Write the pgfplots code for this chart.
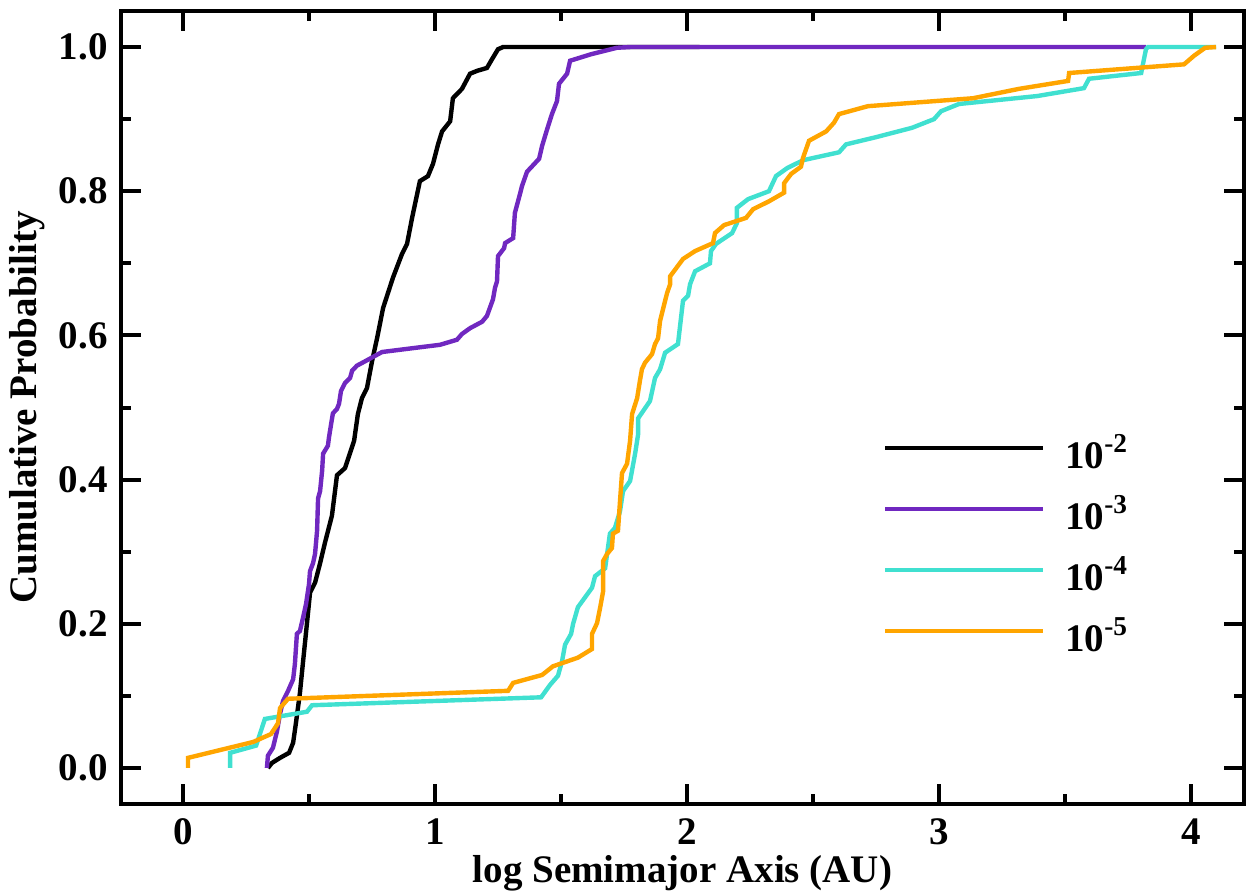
\documentclass[border=0pt]{standalone}
\usepackage{fontspec}
\setmainfont{Liberation Serif}
\usepackage{pgfplots}
\pgfplotsset{compat=1.18}
\definecolor{idlpurple}{RGB}{112,40,192}
\definecolor{idlturq}{RGB}{64,224,208}
\definecolor{idlorange}{RGB}{255,165,0}
\newcommand{\bigfont}{\fontsize{19.5}{23}\selectfont\bfseries}
\begin{document}
\begin{tikzpicture}
\useasboundingbox (-60.5pt,-43pt) rectangle (564pt,402pt);
\begin{axis}[
  scale only axis, width=561.5pt, height=396.5pt,
  xmin=-0.246, xmax=4.21, ymin=-0.05, ymax=1.05,
  axis line style={line width=2.2pt},
  tick pos=both, tick align=inside,
  major tick length=10pt, minor tick length=5pt,
  tick style={black, line width=2pt},
  xtick={0,1,2,3,4}, xticklabels={0,1,2,3,4},
  minor xtick={0.5,1.5,2.5,3.5},
  ytick={0,0.2,0.4,0.6,0.8,1}, yticklabels={0.0,0.2,0.4,0.6,0.8,1.0},
  minor ytick={0.1,0.3,0.5,0.7,0.9},
  xticklabel style={font=\bigfont, inner sep=0pt, anchor=north, yshift=-7pt},
  yticklabel style={font=\bigfont, inner sep=0pt, anchor=east, xshift=-6.5pt},
  xlabel={log Semimajor Axis (AU)},
  ylabel={Cumulative Probability},
  every axis x label/.style={at={([yshift=-39pt]axis description cs:0.5,0)}, anchor=base, font=\bigfont},
  every axis y label/.style={at={([xshift=-42pt]axis description cs:0,0.5)}, rotate=90, anchor=base, font=\bigfont},
  legend style={draw=none, fill=none, inner sep=0pt, outer sep=0pt,
    at={([xshift=381pt,yshift=184pt]axis description cs:0,0)}, anchor=north west,
    row sep=14.5pt, column sep=10pt, font=\bigfont,
    nodes={inner sep=0pt, text height=16pt, text depth=0pt}},
  legend cell align=left,
  legend image code/.code={\draw[#1] (0pt,2pt) -- (79pt,2pt);},
]
\addplot[black, line width=2.2pt] coordinates {
(0.337,0) (0.353,0.007) (0.385,0.014) (0.421,0.021) (0.437,0.035) (0.448,0.062)
(0.464,0.104) (0.476,0.146) (0.492,0.201) (0.504,0.243) (0.524,0.257) (0.544,0.284)
(0.563,0.312) (0.591,0.350) (0.611,0.406) (0.643,0.416) (0.663,0.437) (0.679,0.454)
(0.694,0.491) (0.710,0.513) (0.730,0.527) (0.750,0.564) (0.770,0.596) (0.794,0.638)
(0.833,0.680) (0.869,0.713) (0.889,0.727) (0.909,0.763) (0.940,0.814) (0.972,0.821)
(0.992,0.838) (1.012,0.865) (1.028,0.883) (1.060,0.897) (1.071,0.929) (1.107,0.942)
(1.139,0.963) (1.167,0.967) (1.206,0.971) (1.226,0.983) (1.250,0.997) (1.270,1.0)
(2.05,1.0)
};
\addlegendentry{10\textsuperscript{-2}}
\addplot[idlpurple, line width=2.2pt] coordinates {
(0.333,0) (0.337,0.017) (0.357,0.028) (0.373,0.051) (0.385,0.075) (0.397,0.093)
(0.417,0.107) (0.437,0.123) (0.444,0.144) (0.452,0.186) (0.464,0.190) (0.476,0.208)
(0.488,0.227) (0.500,0.255) (0.504,0.273) (0.516,0.284) (0.524,0.297) (0.532,0.329)
(0.536,0.374) (0.544,0.384) (0.552,0.412) (0.556,0.436) (0.575,0.447) (0.579,0.458)
(0.591,0.484) (0.595,0.492) (0.611,0.498) (0.619,0.505) (0.627,0.523) (0.643,0.534)
(0.663,0.541) (0.671,0.551) (0.690,0.558) (0.722,0.564) (0.790,0.577) (1.020,0.587)
(1.087,0.594) (1.107,0.602) (1.139,0.610) (1.187,0.619) (1.206,0.627) (1.230,0.650)
(1.238,0.666) (1.246,0.675) (1.250,0.710) (1.274,0.721) (1.278,0.728) (1.310,0.735)
(1.317,0.770) (1.337,0.796) (1.345,0.807) (1.365,0.827) (1.413,0.845) (1.425,0.863)
(1.444,0.885) (1.464,0.907) (1.484,0.925) (1.492,0.949) (1.524,0.963) (1.536,0.981)
(1.619,0.990) (1.722,0.999) (1.774,1.0) (3.821,1.0)
};
\addlegendentry{10\textsuperscript{-3}}
\addplot[idlturq, line width=2.2pt] coordinates {
(0.187,0) (0.187,0.021) (0.290,0.031) (0.325,0.068) (0.492,0.078) (0.512,0.087)
(1.421,0.098) (1.456,0.115) (1.488,0.128) (1.504,0.148) (1.516,0.171) (1.540,0.186)
(1.548,0.200) (1.567,0.223) (1.623,0.250) (1.635,0.266) (1.675,0.277) (1.694,0.325)
(1.714,0.333) (1.734,0.356) (1.746,0.384) (1.774,0.398) (1.794,0.436) (1.806,0.463)
(1.806,0.485) (1.853,0.509) (1.873,0.541) (1.893,0.553) (1.913,0.576) (1.964,0.588)
(1.984,0.648) (2.004,0.655) (2.012,0.671) (2.032,0.689) (2.091,0.700) (2.095,0.717)
(2.115,0.727) (2.179,0.742) (2.198,0.756) (2.198,0.777) (2.242,0.789) (2.325,0.800)
(2.353,0.821) (2.397,0.832) (2.460,0.843) (2.603,0.854) (2.631,0.865) (2.750,0.875)
(2.893,0.888) (2.980,0.900) (3.008,0.911) (3.079,0.921) (3.389,0.932) (3.575,0.943)
(3.595,0.956) (3.802,0.964) (3.821,0.997) (3.829,1.0) (4.099,1.0)
};
\addlegendentry{10\textsuperscript{-4}}
\addplot[idlorange, line width=2.2pt] coordinates {
(0.020,0) (0.020,0.014) (0.278,0.036) (0.349,0.047) (0.377,0.062) (0.385,0.083)
(0.417,0.096) (1.290,0.107) (1.310,0.118) (1.425,0.129) (1.468,0.141) (1.567,0.153)
(1.623,0.165) (1.623,0.186) (1.643,0.201) (1.655,0.222) (1.667,0.245) (1.667,0.287)
(1.683,0.297) (1.702,0.305) (1.706,0.325) (1.726,0.329) (1.734,0.370) (1.742,0.409)
(1.762,0.422) (1.774,0.454) (1.782,0.491) (1.802,0.513) (1.813,0.537) (1.821,0.553)
(1.833,0.562) (1.861,0.574) (1.873,0.588) (1.885,0.596) (1.893,0.620) (1.913,0.648)
(1.921,0.659) (1.933,0.671) (1.933,0.682) (1.984,0.706) (2.032,0.717) (2.103,0.728)
(2.111,0.742) (2.147,0.753) (2.234,0.763) (2.262,0.775) (2.325,0.786) (2.385,0.798)
(2.385,0.811) (2.413,0.824) (2.452,0.834) (2.460,0.846) (2.484,0.870) (2.552,0.883)
(2.583,0.895) (2.603,0.907) (2.718,0.918) (3.135,0.929) (3.317,0.942) (3.512,0.953)
(3.516,0.964) (3.972,0.976) (4.012,0.988) (4.056,0.999) (4.099,1.0)
};
\addlegendentry{10\textsuperscript{-5}}
\end{axis}
\end{tikzpicture}
\end{document}
